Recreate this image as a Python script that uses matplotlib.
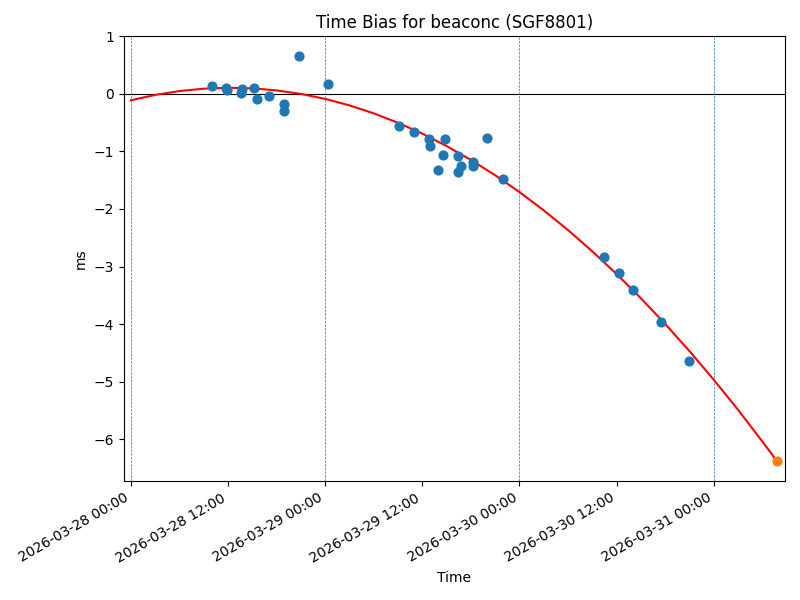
import numpy as np
import pandas as pd
import matplotlib
matplotlib.use("Agg")
import matplotlib.pyplot as plt
import matplotlib.dates as mdates

# measured time bias samples (ms)
times = ["2026-03-28 10:00", "2026-03-28 11:42", "2026-03-28 11:54", "2026-03-28 13:45",
         "2026-03-28 13:36", "2026-03-28 15:12", "2026-03-28 15:36", "2026-03-28 17:06",
         "2026-03-28 18:54", "2026-03-28 18:54", "2026-03-28 20:42", "2026-03-29 00:18",
         "2026-03-29 09:06", "2026-03-29 10:57", "2026-03-29 12:51", "2026-03-29 12:58",
         "2026-03-29 14:48", "2026-03-29 14:36", "2026-03-29 13:58", "2026-03-29 16:24",
         "2026-03-29 16:48", "2026-03-29 16:24", "2026-03-29 18:18", "2026-03-29 18:12",
         "2026-03-29 19:58", "2026-03-29 22:00", "2026-03-30 10:30", "2026-03-30 12:18",
         "2026-03-30 14:00", "2026-03-30 17:30", "2026-03-30 20:54"]
bias = [0.14, 0.10, 0.07, 0.08,
        0.01, 0.10, -0.09, -0.035,
        -0.17, -0.30, 0.655, 0.174,
        -0.56, -0.66, -0.777, -0.91,
        -0.78, -1.067, -1.32, -1.08,
        -1.25, -1.35, -1.18, -1.26,
        -0.765, -1.48, -2.84, -3.11,
        -3.40, -3.97, -4.65]

# fitted curve, read every 3 hours, ending at the predicted point
fit_start = "2026-03-28 00:00"
fit_end = "2026-03-31 07:48"
fit_bias = [-0.110, -0.017, 0.050, 0.091, 0.107, 0.097, 0.061, 0.000,
            -0.087, -0.200, -0.338, -0.502, -0.691, -0.907, -1.147, -1.414,
            -1.706, -2.024, -2.367, -2.737, -3.131, -3.552, -3.998, -4.470,
            -4.967, -5.490, -6.039, -6.380]
pred_time = ["2026-03-31 07:48"]
pred_bias = [-6.38]

day_lines = ["2026-03-28", "2026-03-29", "2026-03-30", "2026-03-31"]

fit_times = pd.date_range(fit_start, periods=len(fit_bias) - 1, freq="3h").append(
    pd.DatetimeIndex([fit_end]))

fig, ax = plt.subplots(figsize=(8, 6), dpi=100)

ax.axhline(0, color="black", lw=0.8)
for d in day_lines:
    ax.axvline(pd.Timestamp(d), color="C0", ls="--", lw=0.5)

ax.plot(fit_times, fit_bias, color="red", lw=1.5)
ax.scatter(pd.to_datetime(times), bias, color="C0", s=40, zorder=3)
ax.scatter(pd.to_datetime(pred_time), pred_bias, color="C1", s=40, zorder=3)

ax.set_xlim(pd.Timestamp("2026-03-27 23:08"), pd.Timestamp("2026-03-31 08:47"))
ax.xaxis.set_major_locator(mdates.HourLocator(byhour=[0, 12]))
ax.xaxis.set_major_formatter(mdates.DateFormatter("%Y-%m-%d %H:%M"))
fig.autofmt_xdate()
fig.subplots_adjust(left=0.155, right=0.981, top=0.94, bottom=0.198)

ax.set_title("Time Bias for beaconc (SGF8801)")
ax.set_xlabel("Time")
ax.set_ylabel("ms")

fig.savefig("out.png")
